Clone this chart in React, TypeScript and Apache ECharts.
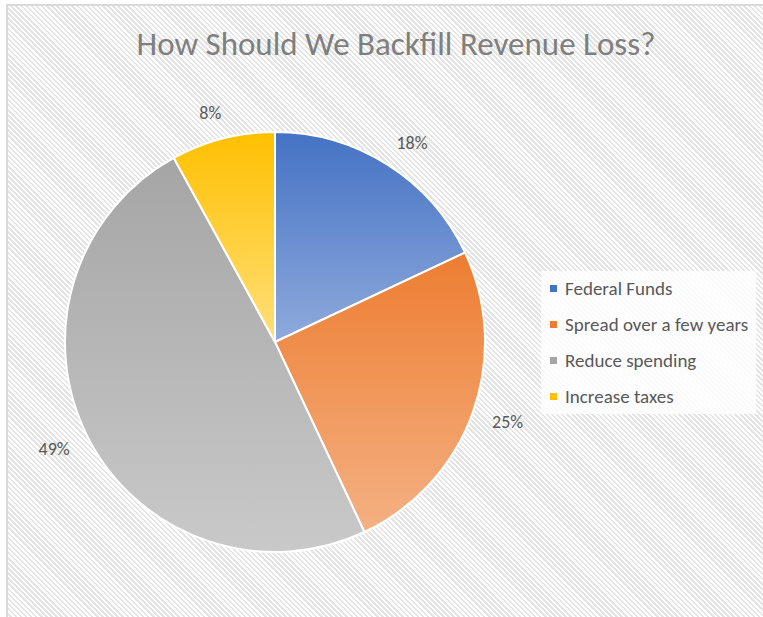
import React, { useEffect, useRef } from "react";
import * as echarts from "echarts";

const titleText = "How Should We Backfill Revenue Loss?";
const categories = ["Federal Funds", "Spread over a few years", "Reduce spending", "Increase taxes"];
const values = [18, 25, 49, 8];
const topColors = ["#4472C4", "#ED7D31", "#A5A5A5", "#FFC000"];
const bottomColors = ["#8FAADC", "#F4B183", "#C9C9C9", "#FFDF7A"];

const FONT = "Carlito, Lato, sans-serif";

export default function App() {
  const ref = useRef<HTMLDivElement>(null);
  useEffect(() => {
    if (!ref.current) return;
    const chart = echarts.init(ref.current, undefined, { renderer: "svg" });
    const data = categories.map((name, i) => ({
      name,
      value: values[i],
      itemStyle: {
        color: new echarts.graphic.LinearGradient(0, 0, 0, 1, [
          { offset: 0, color: topColors[i] },
          { offset: 1, color: bottomColors[i] },
        ]),
      },
    }));
    chart.setOption({
      animation: false,
      backgroundColor: "transparent",
      title: {
        text: titleText,
        left: 391,
        textAlign: "center",
        top: 22,
        textStyle: { fontFamily: FONT, fontSize: 33, fontWeight: "normal", color: "#7F7F7F" },
      },
      legend: {
        orient: "vertical",
        left: 541,
        top: 271,
        padding: [8, 8, 8, 9],
        backgroundColor: "rgba(255,255,255,0.8)",
        itemWidth: 7,
        itemHeight: 7,
        itemGap: 17,
        itemStyle: { borderWidth: 0 },
        icon: "rect",
        textStyle: { fontFamily: FONT, fontSize: 19, color: "#595959", lineHeight: 18, padding: [0, 0, 0, 3] },
        data: categories.map((name, i) => ({ name, itemStyle: { color: topColors[i] } })),
      },
      series: [
        {
          type: "pie",
          center: [275, 342],
          radius: 210,
          startAngle: 90,
          clockwise: true,
          avoidLabelOverlap: false,
          itemStyle: { borderColor: "#ffffff", borderWidth: 2 },
          label: {
            show: true,
            position: "outside",
            formatter: "{c}%",
            fontFamily: FONT,
            fontSize: 18,
            color: "#595959",
            distanceToLabelLine: -5,
          },
          labelLine: { show: false, length: 26, length2: 0 },
          emphasis: { disabled: true },
          data,
        },
      ],
    });
    return () => chart.dispose();
  }, []);
  return (
    <div style={{ position: "fixed", left: 0, top: 0, width: 763, height: 617, overflow: "hidden", background: "#ffffff" }}>
      <div
        style={{
          position: "absolute",
          left: 6,
          top: 4,
          width: 900,
          height: 800,
          border: "2px solid #D9D9D9",
          background: "repeating-linear-gradient(45deg, #ffffff 0px, #ffffff 1.8px, #e4e4e4 1.8px, #e4e4e4 3.6px)",
        }}
      />
      <div ref={ref} style={{ position: "absolute", left: 0, top: 0, width: 763, height: 617 }} />
    </div>
  );
}
